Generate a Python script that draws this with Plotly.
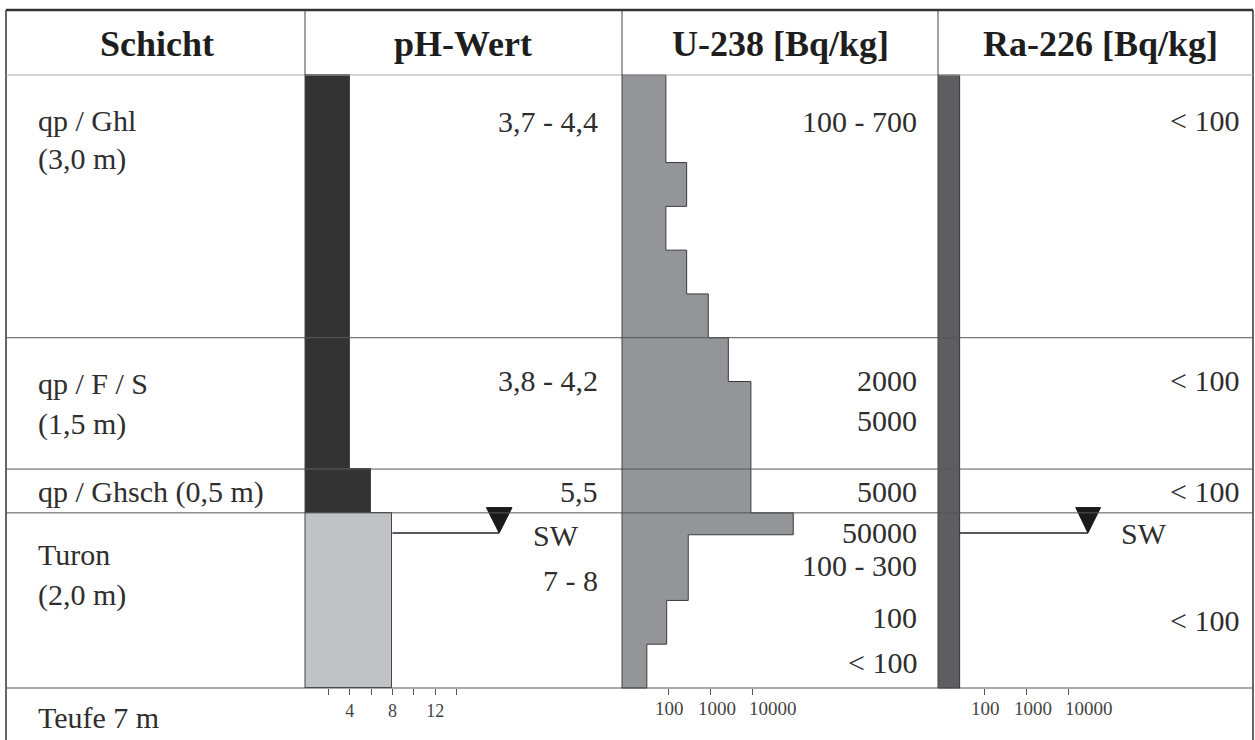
import math
import plotly.graph_objects as go

W, H = 1255, 740

# depth profile (m below surface)
layer_bounds = [0.0, 3.0, 4.5, 5.0, 7.0]
layer_ph = [4.0, 4.0, 6.0, 8.0]
layer_ph_colors = ["#333333", "#333333", "#333333", "#c1c2c5"]

u_top = [0.0, 1.0, 1.5, 2.0, 2.5, 3.0, 3.5, 4.5, 5.0, 5.25, 6.0, 6.5]
u_bottom = [1.0, 1.5, 2.0, 2.5, 3.0, 3.5, 4.5, 5.0, 5.25, 6.0, 6.5, 7.0]
u_value = [88, 275, 88, 275, 900, 2700, 9300, 9300, 95000, 300, 92, 31]

ra_value = 26
sw_depth = 5.23

headers = ["Schicht", "pH-Wert", "U-238 [Bq/kg]", "Ra-226 [Bq/kg]"]

schicht_labels = ["qp / Ghl", "(3,0 m)", "qp / F / S", "(1,5 m)",
                  "qp / Ghsch (0,5 m)", "Turon", "(2,0 m)", "Teufe 7 m"]
schicht_depths = [0.52, 0.96, 3.52, 3.98, 4.76, 5.48, 5.94, 7.34]

ph_labels = ["3,7 - 4,4", "3,8 - 4,2", "5,5", "7 - 8"]
ph_label_depths = [0.53, 3.49, 4.76, 5.77]

u_labels = ["100 - 700", "2000", "5000", "5000", "50000", "100 - 300", "100", "< 100"]
u_label_depths = [0.53, 3.49, 3.95, 4.76, 5.22, 5.6, 6.2, 6.71]

ra_labels = ["< 100", "< 100", "< 100", "< 100"]
ra_label_depths = [0.52, 3.49, 4.76, 6.23]

ph_ticks = [2, 4, 6, 8, 10, 12, 14]
ph_ticktext = ["", "4", "", "8", "", "12", ""]
log_ticks = [100, 1000, 10000]
log_ticktext = ["100", "1000", "10000"]
log_label_shift = [1, 7, 21]  # px, labels in the original are typeset as one line

# page geometry (pixels)
TOP, HEAD, AXIS = 10, 75, 688
LEFT, RIGHT = 6, 1253
COLS = [305, 622, 938]
PXM = (AXIS - HEAD) / 7.0
SERIF = "Liberation Serif"
INK = "#2e2e2e"


def px(x):
    return x / W


def py(y):
    return 1 - y / H


fig = go.Figure()

# pH bars
for i in range(len(layer_ph)):
    d0, d1 = layer_bounds[i], layer_bounds[i + 1]
    fig.add_trace(go.Bar(
        y=[(d0 + d1) / 2], x=[layer_ph[i] + 0.19], base=-0.19, width=d1 - d0,
        orientation="h", xaxis="x", yaxis="y",
        marker=dict(color=layer_ph_colors[i], line=dict(color="#444", width=1)),
        showlegend=False, hoverinfo="skip",
    ))

# U-238 step profile
poly_x, poly_y = [10 ** 0.9], [0.0]
for t, b, v in zip(u_top, u_bottom, u_value):
    poly_x += [v, v]
    poly_y += [t, b]
poly_x.append(10 ** 0.9)
poly_y.append(7.0)
fig.add_trace(go.Scatter(
    x=poly_x, y=poly_y, xaxis="x2", yaxis="y", mode="lines",
    fill="toself", fillcolor="#939598", line=dict(color="#3a3a3a", width=1),
    showlegend=False, hoverinfo="skip",
))

# Ra-226 bar
fig.add_trace(go.Scatter(
    x=[10 ** 0.9, ra_value, ra_value, 10 ** 0.9], y=[0, 0, 7, 7],
    xaxis="x3", yaxis="y", mode="lines", fill="toself", fillcolor="#5e5e60",
    line=dict(color="#333", width=1), showlegend=False, hoverinfo="skip",
))

# groundwater (SW) markers
tri_h = 0.29
fig.add_trace(go.Scatter(
    x=[layer_ph[3], 18.0], y=[sw_depth, sw_depth], xaxis="x", yaxis="y",
    mode="lines", line=dict(color="#222", width=1.5), showlegend=False,
))
fig.add_trace(go.Scatter(
    x=[16.8, 19.2, 18.0, 16.8], y=[sw_depth - tri_h, sw_depth - tri_h, sw_depth, sw_depth - tri_h],
    xaxis="x", yaxis="y", mode="lines", fill="toself", fillcolor="#1a1a1a",
    line=dict(color="#1a1a1a", width=1), showlegend=False,
))
fig.add_trace(go.Scatter(
    x=[ra_value, 10 ** 4.47], y=[sw_depth, sw_depth], xaxis="x3", yaxis="y",
    mode="lines", line=dict(color="#222", width=1.5), showlegend=False,
))
fig.add_trace(go.Scatter(
    x=[10 ** 4.18, 10 ** 4.77, 10 ** 4.47, 10 ** 4.18],
    y=[sw_depth - tri_h, sw_depth - tri_h, sw_depth, sw_depth - tri_h],
    xaxis="x3", yaxis="y", mode="lines", fill="toself", fillcolor="#1a1a1a",
    line=dict(color="#1a1a1a", width=1), showlegend=False,
))

# frame and table lines
shapes = [
    dict(type="line", xref="paper", yref="paper", x0=px(LEFT), x1=px(RIGHT),
         y0=py(TOP), y1=py(TOP), line=dict(color="#333", width=2.5)),
    dict(type="line", xref="paper", yref="paper", x0=px(LEFT), x1=px(LEFT),
         y0=py(TOP), y1=0, line=dict(color="#333", width=1.5)),
    dict(type="line", xref="paper", yref="paper", x0=px(RIGHT), x1=px(RIGHT),
         y0=py(TOP), y1=0, line=dict(color="#333", width=1.5)),
    dict(type="line", xref="paper", yref="paper", x0=px(LEFT), x1=px(RIGHT),
         y0=py(HEAD), y1=py(HEAD), line=dict(color="#aaa", width=1)),
]
for d in layer_bounds[1:]:
    shapes.append(dict(type="line", xref="paper", yref="y", x0=px(LEFT), x1=px(RIGHT),
                       y0=d, y1=d, line=dict(color="#555", width=1)))
for c in COLS:
    shapes.append(dict(type="line", xref="paper", yref="paper", x0=px(c), x1=px(c),
                       y0=py(TOP), y1=py(AXIS), line=dict(color="#444", width=1)))

annotations = []
for text, cx in zip(headers, [157, 463, 780, 1100]):
    annotations.append(dict(text="<b>" + text + "</b>", x=px(cx), y=py(44), xref="paper",
                            yref="paper", xanchor="center", yanchor="middle", showarrow=False,
                            font=dict(family=SERIF, size=36, color="#1e1e1e")))
for text, d in zip(schicht_labels, schicht_depths):
    annotations.append(dict(text=text, x=px(36), y=d, xref="paper", yref="y",
                            xanchor="left", yanchor="middle", showarrow=False,
                            font=dict(family=SERIF, size=30, color=INK)))
for labels, depths, xr in [(ph_labels, ph_label_depths, 600),
                           (u_labels, u_label_depths, 919),
                           (ra_labels, ra_label_depths, 1241)]:
    for text, d in zip(labels, depths):
        annotations.append(dict(text=text, x=px(xr), y=d, xref="paper", yref="y",
                                xanchor="right", yanchor="middle", showarrow=False,
                                font=dict(family=SERIF, size=30, color=INK)))
for cx, d in [(556, sw_depth + 0.03), (1144, sw_depth)]:
    annotations.append(dict(text="SW", x=px(cx), y=d, xref="paper", yref="y",
                            xanchor="center", yanchor="middle",
                            showarrow=False, font=dict(family=SERIF, size=30, color=INK)))
# log-axis tick labels (annotation x on a log axis is given as log10)
for ax in ["x2", "x3"]:
    for val, text, shift in zip(log_ticks, log_ticktext, log_label_shift):
        annotations.append(dict(text=text, x=math.log10(val), xref=ax, y=py(708), yref="paper",
                                xshift=shift, xanchor="center", yanchor="middle",
                                showarrow=False,
                                font=dict(family=SERIF, size=19, color="#444")))

tick_font = dict(family=SERIF, size=18, color="#444")
axis_pos = py(AXIS)
common = dict(anchor="free", position=axis_pos, showgrid=False, zeroline=False,
              showline=False, ticks="outside", ticklen=6, tickcolor="#555",
              tickfont=tick_font, tickangle=0, fixedrange=True)

fig.update_layout(
    width=W, height=H,
    margin=dict(l=0, r=0, t=0, b=0),
    paper_bgcolor="white", plot_bgcolor="rgba(0,0,0,0)",
    bargap=0,
    xaxis=dict(domain=[px(COLS[0]), px(COLS[1])], range=[-0.19, 29.5],
               tickvals=ph_ticks, ticktext=ph_ticktext, **common),
    xaxis2=dict(domain=[px(COLS[1]), px(COLS[2])], type="log", range=[0.9, 0.9 + 316 / 42],
                tickvals=log_ticks, showticklabels=False, **common),
    xaxis3=dict(domain=[px(COLS[2]), px(RIGHT)], type="log", range=[0.9, 0.9 + 315 / 42],
                tickvals=log_ticks, showticklabels=False, **common),
    yaxis=dict(domain=[0, 1], range=[(H - HEAD) / PXM, -HEAD / PXM], visible=False,
               fixedrange=True),
    shapes=shapes,
    annotations=annotations,
    showlegend=False,
)

fig.write_html("out.html", config={"displayModeBar": False},
               post_script="document.body.style.margin='0px';")
